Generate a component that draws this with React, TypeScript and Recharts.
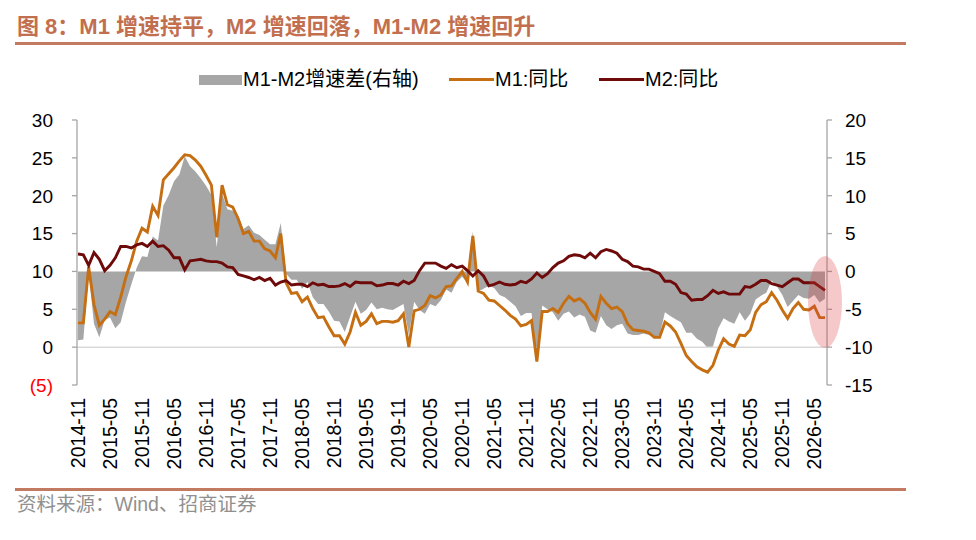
import React from 'react';
import { ComposedChart, Area, Line, XAxis, YAxis, ReferenceLine } from 'recharts';

// Monthly categories, 2014-11 .. 2026-07
const months: string[] = [
  '2014-11', '2014-12',
  '2015-01', '2015-02', '2015-03', '2015-04', '2015-05', '2015-06', '2015-07', '2015-08', '2015-09', '2015-10', '2015-11', '2015-12',
  '2016-01', '2016-02', '2016-03', '2016-04', '2016-05', '2016-06', '2016-07', '2016-08', '2016-09', '2016-10', '2016-11', '2016-12',
  '2017-01', '2017-02', '2017-03', '2017-04', '2017-05', '2017-06', '2017-07', '2017-08', '2017-09', '2017-10', '2017-11', '2017-12',
  '2018-01', '2018-02', '2018-03', '2018-04', '2018-05', '2018-06', '2018-07', '2018-08', '2018-09', '2018-10', '2018-11', '2018-12',
  '2019-01', '2019-02', '2019-03', '2019-04', '2019-05', '2019-06', '2019-07', '2019-08', '2019-09', '2019-10', '2019-11', '2019-12',
  '2020-01', '2020-02', '2020-03', '2020-04', '2020-05', '2020-06', '2020-07', '2020-08', '2020-09', '2020-10', '2020-11', '2020-12',
  '2021-01', '2021-02', '2021-03', '2021-04', '2021-05', '2021-06', '2021-07', '2021-08', '2021-09', '2021-10', '2021-11', '2021-12',
  '2022-01', '2022-02', '2022-03', '2022-04', '2022-05', '2022-06', '2022-07', '2022-08', '2022-09', '2022-10', '2022-11', '2022-12',
  '2023-01', '2023-02', '2023-03', '2023-04', '2023-05', '2023-06', '2023-07', '2023-08', '2023-09', '2023-10', '2023-11', '2023-12',
  '2024-01', '2024-02', '2024-03', '2024-04', '2024-05', '2024-06', '2024-07', '2024-08', '2024-09', '2024-10', '2024-11', '2024-12',
  '2025-01', '2025-02', '2025-03', '2025-04', '2025-05', '2025-06', '2025-07', '2025-08', '2025-09', '2025-10', '2025-11', '2025-12',
  '2026-01', '2026-02', '2026-03', '2026-04', '2026-05', '2026-06', '2026-07',
];

// M1 同比 (%)
const m1: number[] = [
  3.2, 3.2,
  10.6, 5.6, 2.9, 3.7, 4.7, 4.3, 6.6, 9.3, 11.4, 14.0, 15.7, 15.2,
  18.6, 17.4, 22.1, 22.9, 23.7, 24.6, 25.4, 25.3, 24.7, 23.9, 22.7, 21.4,
  14.5, 21.4, 18.8, 18.5, 17.0, 15.0, 15.3, 14.0, 14.0, 13.0, 12.7, 11.8,
  15.0, 8.5, 7.1, 7.2, 6.0, 6.6, 5.1, 3.9, 4.0, 2.7, 1.5, 1.5,
  0.4, 2.0, 4.6, 2.9, 3.4, 4.4, 3.1, 3.4, 3.4, 3.3, 3.5, 4.4,
  0.0, 4.8, 5.0, 5.5, 6.8, 6.5, 6.9, 8.0, 8.1, 9.1, 10.0, 8.6,
  14.7, 7.4, 7.1, 6.2, 6.1, 5.5, 4.9, 4.2, 3.7, 2.8, 3.0, 3.5,
  -1.9, 4.7, 4.7, 5.1, 4.6, 5.8, 6.7, 6.1, 6.4, 5.8, 4.6, 3.7,
  6.7, 5.8, 5.1, 5.3, 4.7, 3.1, 2.3, 2.2, 2.1, 1.9, 1.3, 1.3,
  3.3, 2.8, 2.0, 0.5, -1.1, -1.9, -2.6, -3.0, -3.3, -2.4, -0.4, 1.1,
  0.4, 0.1, 1.6, 1.5, 2.3, 4.6, 5.6, 6.0, 7.2, 6.2, 4.9, 3.8,
  5.1, 5.9, 5.0, 4.9, 5.4, 3.9, 3.9,
];

// M2 同比 (%)
const m2: number[] = [
  12.3, 12.2,
  10.8, 12.5, 11.6, 10.1, 10.8, 11.8, 13.3, 13.3, 13.1, 13.5, 13.7, 13.3,
  14.0, 13.3, 13.4, 12.8, 11.8, 11.8, 10.2, 11.4, 11.5, 11.6, 11.4, 11.3,
  11.3, 11.1, 10.6, 10.5, 9.6, 9.4, 9.2, 8.9, 9.2, 8.8, 9.1, 8.2,
  8.6, 8.8, 8.2, 8.3, 8.3, 8.0, 8.5, 8.2, 8.3, 8.0, 8.0, 8.1,
  8.4, 8.0, 8.6, 8.5, 8.5, 8.5, 8.1, 8.2, 8.4, 8.4, 8.2, 8.7,
  8.4, 8.8, 10.1, 11.1, 11.1, 11.1, 10.7, 10.4, 10.9, 10.5, 10.7, 10.1,
  9.4, 10.1, 9.4, 8.1, 8.3, 8.6, 8.3, 8.2, 8.3, 8.7, 8.5, 9.0,
  9.8, 9.2, 9.7, 10.5, 11.1, 11.4, 12.0, 12.2, 12.1, 11.8, 12.4, 11.8,
  12.6, 12.9, 12.7, 12.4, 11.6, 11.3, 10.7, 10.6, 10.3, 10.3, 10.0, 9.7,
  8.7, 8.7, 8.3, 7.2, 7.0, 6.2, 6.3, 6.3, 6.8, 7.5, 7.1, 7.3,
  7.0, 7.0, 7.0, 8.0, 7.9, 8.3, 8.8, 8.8, 8.4, 8.2, 8.0, 8.5,
  9.0, 9.0, 8.5, 8.5, 8.5, 8.0, 7.5,
];

const xTickLabels: string[] = [
  '2014-11', '2015-05', '2015-11', '2016-05', '2016-11', '2017-05', '2017-11', '2018-05',
  '2018-11', '2019-05', '2019-11', '2020-05', '2020-11', '2021-05', '2021-11', '2022-05',
  '2022-11', '2023-05', '2023-11', '2024-05', '2024-11', '2025-05', '2025-11', '2026-05',
];
const leftTicks: number[] = [-5, 0, 5, 10, 15, 20, 25, 30];
const rightTicks: number[] = [-15, -10, -5, 0, 5, 10, 15, 20];

const title = '图 8：M1 增速持平，M2 增速回落，M1-M2 增速回升';
const source = '资料来源：Wind、招商证券';
const legendSpread = 'M1-M2增速差(右轴)';
const legendM1 = 'M1:同比';
const legendM2 = 'M2:同比';

const data = months.map((month, i) => ({
  month,
  m1: m1[i],
  m2: m2[i],
  spread: Math.round((m1[i] - m2[i]) * 10) / 10,
}));

const FONT = "'Liberation Sans', Arial, 'Noto Sans CJK SC', sans-serif";
const C_M1 = '#C56E12';
const C_M2 = '#6E0A0A';
const C_AREA = '#A6A6A6';
const C_AXIS = '#A6A6A6';
const C_TITLE = '#C26F4F';
const C_RULE = '#C27A60';

const XTick = (props: any) => {
  const { x, y, payload } = props;
  return (
    <text
      x={x}
      y={y}
      transform={`rotate(-90, ${x}, ${y})`}
      textAnchor="end"
      dy="0.36em"
      fontSize={19.5}
      fontFamily={FONT}
      fill="#000"
    >
      {payload.value}
    </text>
  );
};

const LeftTick = (props: any) => {
  const { x, y, payload } = props;
  const v = payload.value as number;
  return (
    <text x={x} y={y} dy="0.36em" textAnchor="end" fontSize={19} fontFamily={FONT} fill={v < 0 ? '#FF0000' : '#000'}>
      {v < 0 ? `(${-v})` : String(v)}
    </text>
  );
};

const RightTick = (props: any) => {
  const { x, y, payload } = props;
  return (
    <text x={x} y={y} dy="0.36em" textAnchor="start" fontSize={19} fontFamily={FONT} fill="#000">
      {String(payload.value)}
    </text>
  );
};

export default function App() {
  return (
    <div style={{ position: 'absolute', left: 0, top: 0, width: 976, height: 540, background: '#fff', overflow: 'hidden', fontFamily: FONT }}>
      {/* Title */}
      <div style={{ position: 'absolute', left: 17, top: 14, fontSize: 22, fontWeight: 'bold', color: C_TITLE, whiteSpace: 'nowrap', lineHeight: '26px' }}>
        {title}
      </div>
      <div style={{ position: 'absolute', left: 15, top: 42, width: 891, height: 3, background: C_RULE }} />

      {/* Legend */}
      <div style={{ position: 'absolute', left: 199, top: 75, width: 43, height: 10, background: C_AREA }} />
      <div style={{ position: 'absolute', left: 243, top: 67, fontSize: 20, lineHeight: '24px', whiteSpace: 'nowrap', color: '#000' }}>{legendSpread}</div>
      <div style={{ position: 'absolute', left: 449, top: 78, width: 45, height: 3, background: C_M1 }} />
      <div style={{ position: 'absolute', left: 495, top: 67, fontSize: 20, lineHeight: '24px', whiteSpace: 'nowrap', color: '#000' }}>{legendM1}</div>
      <div style={{ position: 'absolute', left: 599, top: 78, width: 45, height: 3, background: C_M2 }} />
      <div style={{ position: 'absolute', left: 645, top: 67, fontSize: 20, lineHeight: '24px', whiteSpace: 'nowrap', color: '#000' }}>{legendM2}</div>

      <div style={{ position: 'absolute', left: 0, top: 0 }}>
        <ComposedChart width={976} height={540} data={data} margin={{ top: 120, right: 0, bottom: 55, left: 0 }}>
          <XAxis
            dataKey="month"
            type="category"
            scale="point"
            ticks={xTickLabels}
            interval={0}
            axisLine={false}
            tickLine={false}
            tickSize={0}
            tickMargin={13}
            height={100}
            padding={{ left: 1, right: 2 }}
            tick={<XTick />}
          />
          <YAxis
            yAxisId="left"
            orientation="left"
            domain={[-5, 30]}
            ticks={leftTicks}
            interval={0}
            width={77}
            axisLine={{ stroke: C_AXIS, strokeWidth: 1.3 }}
            tickLine={{ stroke: C_AXIS, strokeWidth: 1.3 }}
            tickSize={5}
            tickMargin={19}
            tick={<LeftTick />}
          />
          <YAxis
            yAxisId="right"
            orientation="right"
            domain={[-15, 20]}
            ticks={rightTicks}
            interval={0}
            width={149}
            axisLine={{ stroke: C_AXIS, strokeWidth: 1.3 }}
            tickLine={{ stroke: C_AXIS, strokeWidth: 1.3 }}
            tickSize={5}
            tickMargin={13}
            tick={<RightTick />}
          />
          <Area
            yAxisId="right"
            type="linear"
            dataKey="spread"
            baseValue={0}
            stroke="none"
            fill={C_AREA}
            fillOpacity={1}
            isAnimationActive={false}
            dot={false}
            activeDot={false}
          />
          <ReferenceLine yAxisId="left" y={0} stroke="#D9D9D9" strokeWidth={1.5} />
          <Line yAxisId="left" type="linear" dataKey="m1" stroke={C_M1} strokeWidth={2.9} dot={false} activeDot={false} isAnimationActive={false} />
          <Line yAxisId="left" type="linear" dataKey="m2" stroke={C_M2} strokeWidth={2.9} dot={false} activeDot={false} isAnimationActive={false} />
        </ComposedChart>
      </div>

      {/* Highlight ellipse */}
      <div style={{ position: 'absolute', left: 808, top: 256, width: 34, height: 92, borderRadius: '50%', background: 'rgba(220, 60, 60, 0.28)', pointerEvents: 'none' }} />

      {/* Bottom rule and source */}
      <div style={{ position: 'absolute', left: 15, top: 488, width: 891, height: 3, background: C_RULE }} />
      <div style={{ position: 'absolute', left: 17, top: 492, fontSize: 19.5, lineHeight: '24px', color: '#909090', whiteSpace: 'nowrap' }}>{source}</div>
    </div>
  );
}
